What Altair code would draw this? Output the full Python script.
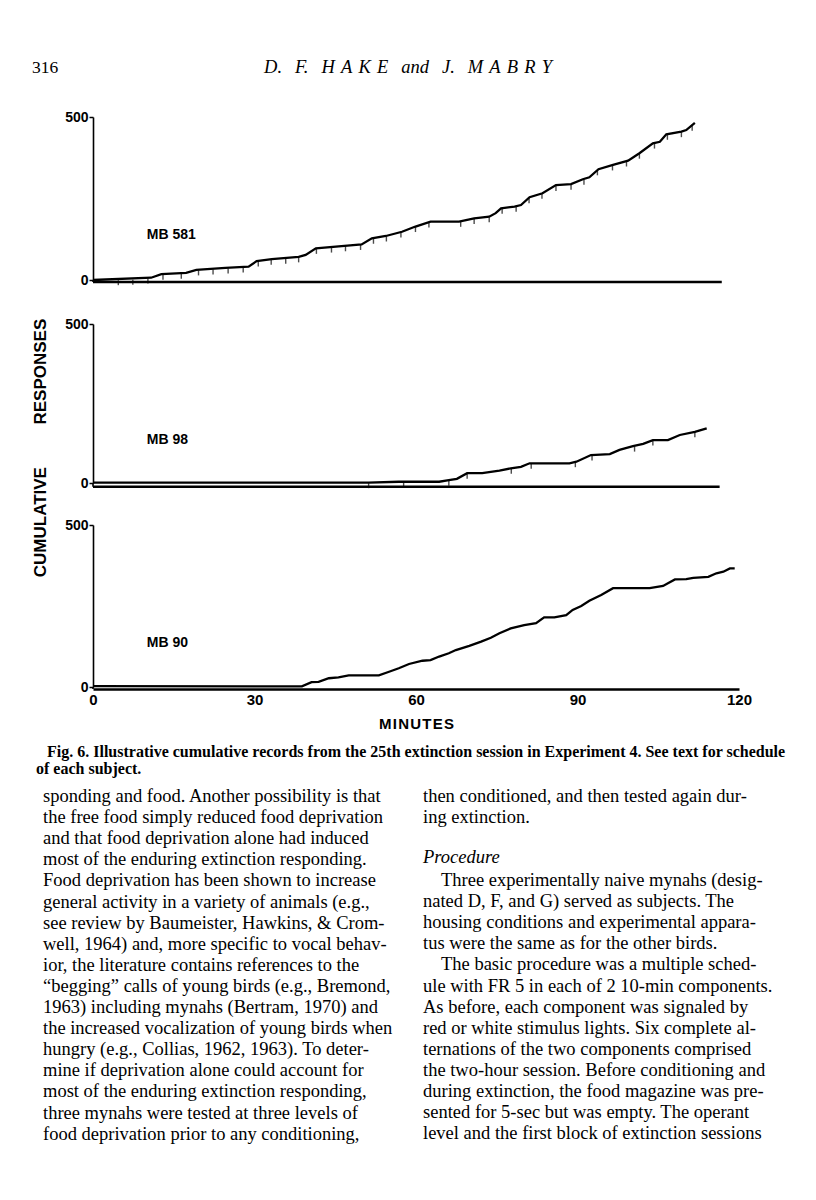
import altair as alt
import pandas as pd

# ---------------- data ----------------
# MB 581 cumulative record (minutes, cumulative responses)
p1_min = [0, 10.8, 12.7, 17.3, 19.2, 24.6, 28.9, 30.4, 33.2, 38.2, 39.5, 41.4, 49.9, 51.8, 54.4, 57.4,
          59.9, 62.7, 68.0, 70.8, 73.6, 74.8, 75.8, 78.3, 79.5, 81.1, 83.5, 86.0, 88.8, 91.0, 92.2,
          93.9, 96.6, 99.4, 101.5, 104.0, 105.3, 106.5, 109.3, 110.2, 111.8]
p1_val = [0, 7, 18, 22, 31, 37, 41, 58, 64, 71, 77, 97, 109, 128, 135, 148,
          164, 179, 179, 189, 194, 205, 220, 225, 230, 254, 266, 291, 294, 309, 315,
          340, 353, 366, 389, 419, 424, 447, 455, 460, 482]
p1_tick_min = [4.7, 7.4, 10.2, 13.0, 16.4, 19.6, 22.3, 25.1, 27.9, 30.7, 33.1, 35.8, 38.2, 41.5,
               44.3, 46.9, 49.7, 52.1, 54.5, 57.2, 59.9, 62.4, 68.3, 70.8, 73.6, 76.0, 78.6, 81.0,
               83.4, 86.0, 88.8, 91.2, 93.7, 96.5, 99.1, 101.5, 104.3, 106.7, 109.3, 111.3]
p1_tick_val = [1, 2, 6, 18, 21, 31, 34, 37, 40, 58, 64, 67, 71, 97,
               101, 105, 109, 128, 135, 147, 164, 178, 180, 189, 194, 220, 226, 252,
               266, 290, 294, 309, 338, 353, 365, 389, 420, 447, 455, 475]

# MB 98
p2_min = [0, 51.2, 56.8, 64.3, 66.1, 67.6, 69.5, 72.3, 75.5, 77.6, 79.5, 81.1, 88.5, 89.8, 92.5,
          96.0, 97.8, 100.3, 102.2, 104.0, 106.8, 109.0, 111.8, 114.0]
p2_val = [1, 1, 4, 4, 9, 13, 31, 31, 39, 46, 51, 62, 62, 67, 88,
          91, 104, 116, 123, 135, 135, 151, 161, 172]
p2_tick_min = [51.2, 57.7, 66.1, 69.5, 77.7, 81.4, 89.6, 92.7, 100.6, 104.0, 111.8]
p2_tick_val = [1, 4, 9, 31, 46, 62, 67, 88, 116, 135, 161]

# MB 90
p3_min = [0, 38.8, 40.6, 41.9, 43.8, 45.6, 47.5, 53.1, 55.0, 56.8, 58.7, 61.2, 62.7, 64.3, 66.1,
          67.4, 69.9, 72.1, 73.9, 75.5, 77.6, 80.1, 82.3, 83.8, 85.7, 87.9, 89.1, 90.7, 92.2,
          94.4, 96.6, 103.4, 105.9, 106.8, 108.1, 110.2, 111.5, 114.3, 115.8, 117.1, 118.3, 119.2]
p3_val = [3, 2, 15, 16, 27, 30, 36, 36, 47, 58, 71, 81, 83, 94, 104,
          114, 127, 140, 152, 166, 181, 191, 197, 215, 215, 222, 238, 250, 266,
          284, 305, 305, 312, 320, 332, 333, 337, 340, 351, 356, 366, 366]

subjects = ["MB 581", "MB 98", "MB 90"]
x_ticks = [0, 30, 60, 90, 120]
y_ticks = [0, 500]

header_page = "316"
header_authors = ("D.\u2002\u2009F.\u2002\u2009H\u2004A\u2004K\u2004E\u2002\u2009and\u2002\u2009"
                  "J.\u2002\u2009M\u2004A\u2004B\u2004R\u2004Y")
y_title = "CUMULATIVE\u2003\u2003\u2002RESPONSES"
x_title = "M\u200aI\u200aN\u200aU\u200aT\u200aE\u200aS"

caption_line1 = ("Fig. 6. Illustrative cumulative records from the 25th extinction session in "
                 "Experiment 4. See text for schedule")
caption_line2 = "of each subject."
left_col = [
    "sponding and food. Another possibility is that",
    "the free food simply reduced food deprivation",
    "and that food deprivation alone had induced",
    "most of the enduring extinction responding.",
    "Food deprivation has been shown to increase",
    "general activity in a variety of animals (e.g.,",
    "see review by Baumeister, Hawkins, & Crom-",
    "well, 1964) and, more specific to vocal behav-",
    "ior, the literature contains references to the",
    "\u201cbegging\u201d calls of young birds (e.g., Bremond,",
    "1963) including mynahs (Bertram, 1970) and",
    "the increased vocalization of young birds when",
    "hungry (e.g., Collias, 1962, 1963). To deter-",
    "mine if deprivation alone could account for",
    "most of the enduring extinction responding,",
    "three mynahs were tested at three levels of",
    "food deprivation prior to any conditioning,",
]
right_col_top = [
    "then conditioned, and then tested again dur-",
    "ing extinction.",
]
right_heading = "Procedure"
para1_first = "Three experimentally naive mynahs (desig-"
para1_rest = [
    "nated D, F, and G) served as subjects. The",
    "housing conditions and experimental appara-",
    "tus were the same as for the other birds.",
]
para2_first = "The basic procedure was a multiple sched-"
para2_rest = [
    "ule with FR 5 in each of 2 10-min components.",
    "As before, each component was signaled by",
    "red or white stimulus lights. Six complete al-",
    "ternations of the two components comprised",
    "the two-hour session. Before conditioning and",
    "during extinction, the food magazine was pre-",
    "sented for 5-sec but was empty. The operant",
    "level and the first block of extinction sessions",
]

# ---------------- chart ----------------
SANS = "Liberation Sans"
SERIF = "Liberation Serif"
W, H = 646, 681
one = pd.DataFrame({"k": [0]})
XS = alt.Scale(domain=[0, 120], nice=False, zero=False)


def ys(rng):
    return alt.Scale(domain=[0, 500], range=rng, nice=False, zero=False)


def yaxis():
    return alt.Axis(values=y_ticks, orient="left", title=None, grid=False, tickSize=4,
                    tickWidth=1.5, domainWidth=1.6, domainColor="black", tickColor="black",
                    labelColor="black", labelFont=SANS, labelFontSize=14, labelFontWeight="bold",
                    labelPadding=1)


def xaxis():
    return alt.Axis(values=x_ticks, title=x_title, grid=False, ticks=False, domainWidth=2.4,
                    domainColor="black", labelColor="black", labelFont=SANS, labelFontSize=15,
                    labelFontWeight="bold", labelPadding=3, labelFlush=False, titleFont=SANS,
                    titleFontSize=15, titleFontWeight="bold", titleColor="black",
                    titlePadding=9)


def panel_layers(mins, vals, tmins, tvals, label, label_y, rng, base_y, base_end):
    out = []
    df = pd.DataFrame({"m": mins, "r": vals})
    out.append(
        alt.Chart(df).mark_line(color="black", strokeWidth=2.3).encode(
            x=alt.X("m:Q", scale=XS, axis=xaxis()),
            y=alt.Y("r:Q", scale=ys(rng), axis=yaxis()),
        )
    )
    # y-axis line continues down to the baseline
    out.append(
        alt.Chart(one).mark_rule(color="black", strokeWidth=1.6).encode(
            x=alt.XDatum(0, scale=XS, axis=xaxis()),
            y=alt.YDatum(base_y, scale=ys(rng), axis=None),
            y2=alt.Y2Datum(0),
        )
    )
    if base_end is not None:
        out.append(
            alt.Chart(one).mark_rule(color="black", strokeWidth=2.4).encode(
                x=alt.XDatum(0, scale=XS, axis=xaxis()),
                x2=alt.X2Datum(base_end),
                y=alt.YDatum(base_y, scale=ys(rng), axis=None),
            )
        )
    if tmins:
        tdf = pd.DataFrame({"m": tmins, "r": tvals})
        out.append(
            alt.Chart(tdf).mark_tick(color="black", orient="vertical", size=5, thickness=1.4,
                                     yOffset=3).encode(
                x=alt.X("m:Q", scale=XS, axis=xaxis()),
                y=alt.Y("r:Q", scale=ys(rng), axis=None),
            )
        )
    out.append(
        alt.Chart(one).mark_text(text=label, align="left", baseline="middle", font=SANS,
                                 fontSize=14, fontWeight="bold", color="black").encode(
            x=alt.XDatum(10, scale=XS, axis=xaxis()),
            y=alt.YDatum(label_y, scale=ys(rng), axis=None),
        )
    )
    return out


layers = []
layers += panel_layers(p1_min, p1_val, p1_tick_min, p1_tick_val, subjects[0], 138, [272, 109], -6, 116.8)
layers += panel_layers(p2_min, p2_val, p2_tick_min, p2_tick_val, subjects[1], 135, [475, 316], -12, 116.4)
layers += panel_layers(p3_min, p3_val, [], [], subjects[2], 136, [679, 517], -6, None)


def txt(text, x, y, **kw):
    base = dict(color="black", align="left", baseline="alphabetic")
    base.update(kw)
    return alt.Chart(one).mark_text(text=text, **base).encode(x=alt.value(x), y=alt.value(y))


BODY = dict(font=SERIF, fontSize=18.5, lineHeight=21.1)
LH = 21.1
layers += [
    txt(header_page, -61, 65, font=SERIF, fontSize=17.5),
    txt(header_authors, 315, 65, font=SERIF, fontSize=18.5, fontStyle="italic", align="center"),
    txt(y_title, -52, 440, font=SANS, fontSize=17, fontWeight="bold", angle=270,
        align="center", baseline="middle"),
    txt(caption_line1, -46, 749, font=SERIF, fontSize=16, fontWeight="bold"),
    txt(caption_line2, -57, 766, font=SERIF, fontSize=16, fontWeight="bold"),
    txt(left_col, -50, 794, **BODY),
    txt(right_col_top, 330, 794, **BODY),
    txt(right_heading, 330, 855, font=SERIF, fontSize=18.5, fontStyle="italic"),
    txt(para1_first, 348, 878, **BODY),
    txt(para1_rest, 330, 878 + LH, **BODY),
    txt(para2_first, 348, 878 + 4 * LH, **BODY),
    txt(para2_rest, 330, 878 + 5 * LH, **BODY),
]

chart = (
    alt.layer(*layers)
    .resolve_scale(y="independent")
    .properties(
        width=W,
        height=H,
        autosize=alt.AutoSizeParams(type="none"),
        padding={"left": 85, "top": 0, "right": 69, "bottom": 503},
        background="white",
    )
    .configure_view(stroke=None)
)

chart.save("out.html", embed_options={"renderer": "svg", "actions": False})
